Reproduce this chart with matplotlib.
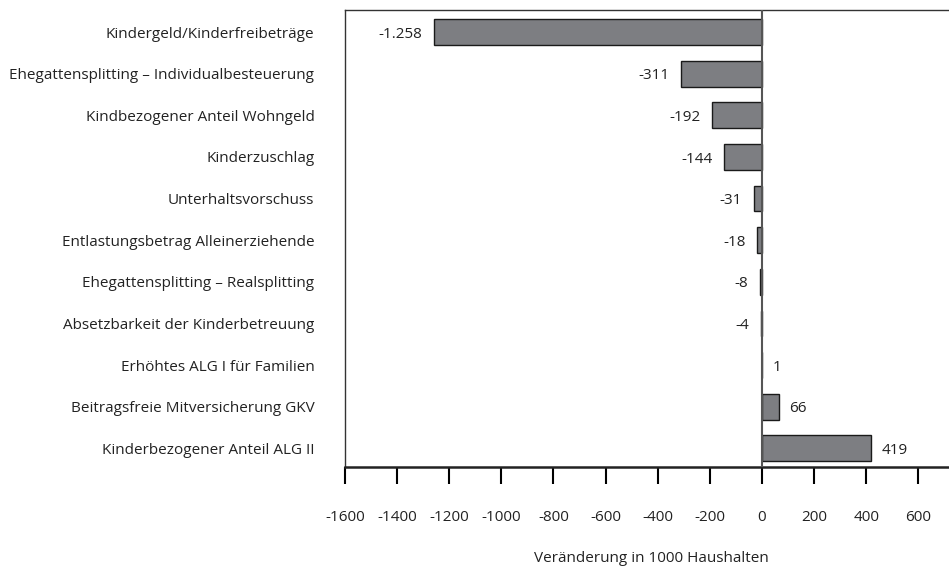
import matplotlib.pyplot as plt

plt.rcParams['font.family'] = ['Open Sans', 'DejaVu Sans']

# Data
categories = [
    "Kindergeld/Kinderfreibeträge",
    "Ehegattensplitting – Individualbesteuerung",
    "Kindbezogener Anteil Wohngeld",
    "Kinderzuschlag",
    "Unterhaltsvorschuss",
    "Entlastungsbetrag Alleinerziehende",
    "Ehegattensplitting – Realsplitting",
    "Absetzbarkeit der Kinderbetreuung",
    "Erhöhtes ALG I für Familien",
    "Beitragsfreie Mitversicherung GKV",
    "Kinderbezogener Anteil ALG II",
]
values = [-1258, -311, -192, -144, -31, -18, -8, -4, 1, 66, 419]
value_labels = ["-1.258", "-311", "-192", "-144", "-31", "-18", "-8", "-4", "1", "66", "419"]
xticks = [-1600, -1400, -1200, -1000, -800, -600, -400, -200, 0, 200, 400, 600]

fig = plt.figure(figsize=(9.49, 5.70), dpi=100)
ax = fig.add_axes([345 / 949, 1 - 467 / 570, (949 - 345) / 949 + 0.01, (467 - 10) / 570])

y = list(range(len(categories)))
ax.barh(y, values, height=0.62, color="#7d7e82", edgecolor="#1a1a1a", linewidth=1.0, zorder=2)
ax.axvline(0, color="#555555", linewidth=1.5, zorder=3)

fs = 11
for yi, v, lab in zip(y, values, value_labels):
    if v < 0:
        ax.text(v - 45, yi + 0.05, lab, ha="right", va="center", fontsize=fs, color="#222222")
    else:
        ax.text(v + 40, yi + 0.05, lab, ha="left", va="center", fontsize=fs, color="#222222")

ax.set_xlim(-1600, 754)
ax.set_ylim(len(categories) - 0.55, -0.53)
ax.set_yticks(y)
ax.set_yticklabels(categories, fontsize=fs, color="#222222")
ax.tick_params(axis="y", length=0, pad=22)
ax.set_xticks(xticks)
ax.set_xticklabels([str(t) for t in xticks], fontsize=fs, color="#222222")
ax.tick_params(axis="x", direction="out", length=12, width=1.5, pad=19)

for s in ["left", "top"]:
    ax.spines[s].set_linewidth(1.0)
    ax.spines[s].set_color("#333333")
ax.spines["bottom"].set_linewidth(1.8)
ax.spines["bottom"].set_color("#222222")
ax.spines["right"].set_visible(False)

ax.set_xlabel("Veränderung in 1000 Haushalten", fontsize=fs, color="#222222", labelpad=19)

fig.savefig("out.png", dpi=100)
